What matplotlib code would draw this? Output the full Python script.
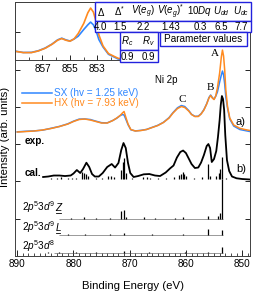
import matplotlib
matplotlib.use('Agg')
import matplotlib.pyplot as plt
from matplotlib.patches import Rectangle
from matplotlib.ticker import MultipleLocator

plt.rcParams['font.family'] = ['Liberation Sans', 'DejaVu Sans']
plt.rcParams['mathtext.fontset'] = 'custom'
plt.rcParams['mathtext.rm'] = 'Liberation Sans'
plt.rcParams['mathtext.it'] = 'Liberation Sans:italic'
plt.rcParams['mathtext.bf'] = 'Liberation Sans:bold'

# ---------------- data ----------------
E_exp = [890.0, 888.5, 887.0, 885.5, 884.0, 882.5, 881.0, 880.0, 879.0, 878.0, 877.0, 876.0,
         875.0, 874.0, 873.0, 872.3, 871.7, 871.3, 871.0, 870.7, 870.3, 869.8, 869.0, 868.0,
         867.0, 866.0, 865.0, 864.0, 863.0, 862.3, 861.5, 860.8, 860.2, 859.5, 859.0, 858.4,
         857.8, 857.3, 856.8, 856.3, 855.9, 855.6, 855.3, 855.0, 854.7, 854.4, 854.0, 853.7,
         853.5, 853.3, 853.1, 852.9, 852.6, 852.2, 851.5, 850.4, 849.5, 848.6]
hx = [0.000, 0.013, 0.027, 0.054, 0.094, 0.147, 0.214, 0.282, 0.335, 0.349, 0.322, 0.282,
      0.241, 0.241, 0.308, 0.375, 0.442, 0.509, 0.550, 0.402, 0.214, 0.067, 0.027, 0.040,
      0.067, 0.121, 0.174, 0.255, 0.375, 0.509, 0.630, 0.684, 0.657, 0.563, 0.469, 0.416,
      0.416, 0.483, 0.590, 0.751, 0.912, 0.979, 0.912, 0.871, 0.965, 1.180, 1.582, 2.011,
      2.198, 2.038, 1.662, 1.126, 0.684, 0.375, 0.188, 0.099, 0.067, 0.040]
sx = [0.005, 0.020, 0.030, 0.050, 0.100, 0.150, 0.220, 0.290, 0.345, 0.350, 0.335, 0.290,
      0.250, 0.245, 0.310, 0.370, 0.440, 0.469, 0.456, 0.349, 0.200, 0.060, 0.030, 0.045,
      0.070, 0.125, 0.180, 0.260, 0.385, 0.520, 0.650, 0.710, 0.684, 0.575, 0.475, 0.420,
      0.425, 0.490, 0.600, 0.760, 0.925, 0.992, 0.925, 0.880, 0.960, 1.072, 1.340, 1.528,
      1.635, 1.528, 1.287, 0.938, 0.643, 0.349, 0.161, 0.067, 0.040, 0.013]

E_cal = [885.4, 884.5, 883.5, 882.5, 881.5, 880.5, 880.0, 879.4, 878.8, 878.3, 877.7, 877.2,
         876.7, 876.2, 875.5, 874.8, 874.0, 873.2, 872.6, 872.0, 871.5, 871.1, 870.7, 870.3,
         869.9, 869.3, 868.5, 867.5, 866.5, 865.5, 864.6, 863.6, 862.8, 862.2, 861.6, 861.0,
         860.5, 860.0, 859.5, 859.0, 858.4, 857.8, 857.3, 856.8, 856.3, 856.0, 855.7, 855.4,
         855.0, 854.6, 854.3, 854.0, 853.8, 853.6, 853.4, 853.2, 853.0, 852.7, 852.3, 851.8,
         851.0, 850.0, 848.6]
cal = [0.054, 0.067, 0.094, 0.094, 0.080, 0.094, 0.147, 0.241, 0.161, 0.268, 0.437, 0.322,
       0.134, 0.067, 0.067, 0.161, 0.322, 0.402, 0.308, 0.429, 0.777, 0.965, 0.831, 0.429,
       0.161, 0.054, 0.080, 0.126, 0.134, 0.094, 0.080, 0.174, 0.287, 0.362, 0.576, 0.724,
       0.764, 0.697, 0.550, 0.402, 0.295, 0.308, 0.442, 0.643, 0.885, 0.938, 0.831, 0.456,
       0.536, 0.751, 1.126, 1.582, 1.984, 2.225, 2.145, 1.850, 1.180, 0.509, 0.214, 0.067,
       0.020, 0.000, -0.013]

stick_E = [884.0, 883.0, 882.2, 881.0, 880.3, 879.6, 878.4, 878.1, 877.8, 877.4, 876.0, 875.0,
           873.8, 873.3, 872.8, 871.6, 871.25, 870.95, 870.65, 869.5, 867.6, 867.0, 866.3, 865.0,
           863.5, 862.2, 861.2, 860.9, 860.6, 860.3, 859.9, 858.5, 857.2, 856.0, 855.7, 854.6,
           854.2, 853.95, 853.5, 852.8]
stick_h = [0.040, 0.027, 0.054, 0.027, 0.040, 0.040, 0.188, 0.161, 0.134, 0.080, 0.027, 0.027,
           0.080, 0.080, 0.054, 0.241, 0.456, 0.563, 0.161, 0.027, 0.054, 0.054, 0.040, 0.027,
           0.040, 0.054, 0.107, 0.134, 0.188, 0.134, 0.080, 0.027, 0.054, 0.402, 0.080, 0.080,
           0.161, 0.268, 0.590, 0.027]

z_E = [880.5, 878.2, 876.0, 873.5, 871.6, 871.0, 870.7, 867.5, 865.5, 862.0, 860.5, 856.0,
       854.3, 854.0, 853.5]
z_h = [0.027, 0.040, 0.027, 0.027, 0.214, 0.241, 0.054, 0.040, 0.027, 0.027, 0.040, 0.080,
       0.080, 0.161, 1.064]
l_E = [881.0, 878.0, 873.5, 871.0, 866.0, 860.5, 856.0, 853.5]
l_h = [0.027, 0.027, 0.040, 0.067, 0.027, 0.027, 0.161, 0.134]
d8_E = [884.5, 882.5, 879.5, 876.0, 871.0, 866.5, 860.2, 856.0, 853.5]
d8_h = [0.040, 0.040, 0.027, 0.027, 0.054, 0.027, 0.040, 0.027, 0.161]

comp_labels = [r'$\mathit{2p^{5}3d^{9}}$', r'$\mathit{2p^{5}3d^{9}}$', r'$\mathit{2p^{5}3d^{8}}$']
comp_under = ['Z', 'L', None]

param_names = [r'$\Delta$', r'$\Delta^{*}$', r'$V(e_g)$', r'$V(e_g)^{*}$', r'10$Dq$',
               r'$U_{dd}$', r'$U_{dc}$']
param_values = ['4.0', '1.5', '2.2', '1.43', '0.3', '6.5', '7.7']
r_names = [r'$R_c$', r'$R_v$']
r_values = ['0.9', '0.9']

sx_label = 'SX (hv = 1.25 keV)'
hx_label = 'HX (hv = 7.93 keV)'

# ---------------- style / layout ----------------
C_SX = '#2f86ff'
C_HX = '#ff8a1f'
C_TAB = '#2222dd'
W, H = 279, 294
exp_off, cal_off = 3.324, 2.064
z_off, l_off, d8_off = 1.0, 0.563, 0.080

fig = plt.figure(figsize=(W / 100, H / 100), dpi=100)


def px_box(l, t, r, b):
    return [l / W, 1 - b / H, (r - l) / W, (b - t) / H]


ax = fig.add_axes(px_box(15, 2, 250, 256))
ax.set_xlim(890.4, 848.6)
ax.set_ylim(0, 6.81)

ax.plot(E_exp, [v + exp_off for v in sx], color=C_SX, lw=1.1, label=sx_label)
ax.plot(E_exp, [v + exp_off for v in hx], color=C_HX, lw=1.1, label=hx_label)
ax.plot(E_cal, [v + cal_off for v in cal], color='black', lw=1.3)
ax.vlines(stick_E, cal_off, [cal_off + h for h in stick_h], color='black', lw=0.9)

for off, Es, hs, start in [(z_off, z_E, z_h, 882.5), (l_off, l_E, l_h, 882.5),
                           (d8_off, d8_E, d8_h, 883.5)]:
    ax.hlines(off, start, 853.45, color='0.3', lw=0.4)
    ax.vlines(Es, off, [off + h for h in hs], color='black', lw=0.9)

ax.set_xticks([890, 880, 870, 860, 850])
ax.xaxis.set_minor_locator(MultipleLocator(1))
ax.set_yticks(range(7))
ax.tick_params(axis='x', which='major', direction='in', length=4, width=0.6, labelsize=7.2, pad=2.5)
ax.tick_params(axis='x', which='minor', direction='in', length=2.5, width=0.5)
ax.tick_params(axis='y', which='major', direction='in', length=3.5, width=0.6,
               left=True, right=True, labelleft=False)
for s in ax.spines.values():
    s.set_linewidth(0.7)
    s.set_color('0.25')
ax.set_xlabel('Binding Energy (eV)', fontsize=8.2)
ax.xaxis.set_label_coords(0.5, -0.098)
ax.set_ylabel('Intensity (arb. units)', fontsize=8.2)
ax.yaxis.set_label_coords(-0.02, 0.4685)

# ---------------- inset ----------------
ins = fig.add_axes(px_box(15, 2, 145.6, 60))
ins.patch.set_alpha(0)
ins.plot(E_exp, sx, color=C_SX, lw=1.2)
ins.plot(E_exp, hx, color=C_HX, lw=1.2)
ins.set_xlim(859, 849.5)
ins.set_ylim(0.12, 2.44)
ins.set_yticks([])
ins.set_xticks([857, 855, 853])
ins.xaxis.set_minor_locator(MultipleLocator(1))
ins.tick_params(axis='x', which='major', direction='in', length=3.5, width=0.6, labelsize=7.2, pad=3)
ins.tick_params(axis='x', which='minor', direction='in', length=2, width=0.5)
for s in ins.spines.values():
    s.set_linewidth(0.7)
    s.set_color('0.25')

# ---------------- overlay (pixel coordinates) ----------------
ov = fig.add_axes([0, 0, 1, 1])
ov.set_xlim(0, W)
ov.set_ylim(H, 0)
ov.axis('off')
ov.set_zorder(10)

# legend
ov.plot([22, 52], [93, 93], color=C_SX, lw=1.1)
ov.plot([22, 52], [103, 103], color=C_HX, lw=1.1)
ov.text(54, 93, sx_label, color=C_SX, fontsize=7.2, va='center', ha='left')
ov.text(54, 103, hx_label, color=C_HX, fontsize=7.2, va='center', ha='left')

ov.text(166, 80, 'Ni 2p', fontsize=7, ha='center', va='center')
ov.text(215, 53, 'A', fontsize=8, family='Liberation Serif', ha='center', va='center')
ov.text(210, 88, 'B', fontsize=8, family='Liberation Serif', ha='center', va='center')
ov.text(182, 99, 'C', fontsize=8, family='Liberation Serif', ha='center', va='center')
ov.text(25, 140.5, 'exp.', fontsize=7.2, weight='bold', ha='left', va='center')
ov.text(25, 173.5, 'cal.', fontsize=7.2, weight='bold', ha='left', va='center')
ov.text(236, 122, 'a)', fontsize=8, ha='left', va='center')
ov.text(236, 169, 'b)', fontsize=8, ha='left', va='center')

# component labels
renderer = fig.canvas.get_renderer()
inv = ov.transData.inverted()
for lab, und, yb in zip(comp_labels, comp_under, [211, 231, 249.5]):
    t = ov.text(22, yb, lab, fontsize=7.2, ha='left', va='baseline')
    if und:
        bb = t.get_window_extent(renderer=renderer)
        x1 = inv.transform((bb.x1, bb.y0))[0]
        t2 = ov.text(x1 + 0.3, yb, und, fontsize=7.2, style='italic', ha='left', va='baseline')
        bb2 = t2.get_window_extent(renderer=renderer)
        xa = inv.transform((bb2.x0, bb2.y0))[0]
        xb = inv.transform((bb2.x1, bb2.y0))[0]
        ov.plot([xa, xb - 0.8], [yb + 2.0, yb + 2.0], color='black', lw=0.6)

# tables
def box(l, t, r, b):
    ov.add_patch(Rectangle((l, t), r - l, b - t, facecolor='white', edgecolor=C_TAB, lw=1.0))

box(95, 1.5, 250.5, 20.7)
box(95, 20.7, 250.5, 32.3)
box(120, 32.3, 158, 50)
box(120, 50, 158, 62.3)
box(159.5, 32.3, 246.5, 45.8)
for xc, nm, vl in zip([101, 120, 143, 171, 200, 221, 241], param_names, param_values):
    ov.text(xc, 11.5, nm, fontsize=7, ha='center', va='center')
    ov.text(xc, 26.5, vl, fontsize=7, ha='center', va='center')
for xc, nm, vl in zip([127, 148], r_names, r_values):
    ov.text(xc, 41.5, nm, fontsize=7, ha='center', va='center')
    ov.text(xc, 56.5, vl, fontsize=7, ha='center', va='center')
ov.text(203, 39, 'Parameter values', fontsize=7.2, ha='center', va='center')

fig.savefig('out.png', dpi=100)
